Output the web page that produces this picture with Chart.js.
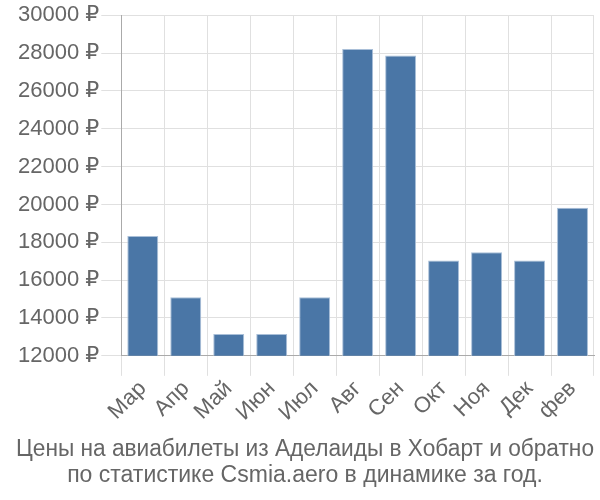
<!DOCTYPE html>
<html>
<head>
<meta charset="utf-8">
<script src="https://cdn.jsdelivr.net/npm/chart.js@4/dist/chart.umd.min.js"></script>
<style>
html,body{margin:0;padding:0;background:#fff;}
#wrap{width:600px;height:500px;position:relative;}
</style>
</head>
<body>
<div id="wrap"><canvas id="c"></canvas></div>
<script>
const categories = ["Мар","Апр","Май","Июн","Июл","Авг","Сен","Окт","Ноя","Дек","фев"];
const prices = [18330, 15090, 13150, 13150, 15090, 28220, 27870, 17040, 17480, 17040, 19820];
const titleLines = ["Цены на авиабилеты из Аделаиды в Хобарт и обратно","по статистике Csmia.aero в динамике за год."];
const yMin = 12000, yMax = 30000, yStep = 2000;
const currency = " ₽";

const FONT = "'Liberation Sans', Arial, 'DejaVu Sans', sans-serif";
new Chart(document.getElementById('c'), {
  type: 'bar',
  data: {
    labels: categories,
    datasets: [{
      data: prices,
      backgroundColor: '#4a76a6',
      borderColor: '#a9bfd8',
      borderWidth: 1
    }]
  },
  options: {
    responsive: true,
    maintainAspectRatio: false,
    animation: false,
    layout: {padding: {top: 1, right: 6, left: 16, bottom: 11}},
    plugins: {
      legend: {display: false},
      tooltip: {enabled: false},
      title: {
        display: true,
        position: 'bottom',
        text: titleLines,
        color: '#666',
        font: {family: FONT, size: 23, weight: 'normal', lineHeight: 1.15},
        padding: {top: 10, bottom: 0}
      }
    },
    scales: {
      x: {
        grid: {color: '#e0e0e0', tickLength: 20, offset: true},
        border: {color: '#aaa'},
        ticks: {color: '#666', font: {family: FONT, size: 22}, maxRotation: 45, minRotation: 45, padding: 0}
      },
      y: {
        min: yMin, max: yMax,
        grid: {color: '#e0e0e0', tickLength: 20},
        border: {color: '#aaa'},
        ticks: {stepSize: yStep, color: '#666', font: {family: FONT, size: 22}, padding: 2,
          callback: v => v + currency}
      }
    }
  }
});
</script>
</body>
</html>
